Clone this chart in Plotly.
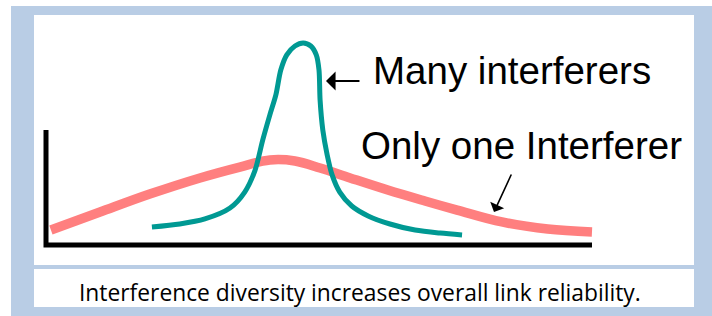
import plotly.graph_objects as go

# ---- data (abstract units: x 0..10 along the axis, y density-like) ----
pink_x = [0.09, 0.99, 1.90, 2.82, 3.55, 4.10, 4.56, 5.02, 5.57, 6.26, 6.94, 7.53, 8.35, 9.19, 10.0]
pink_y = [0.74, 1.63, 2.52, 3.32, 3.86, 4.21, 4.16, 3.81, 3.32, 2.72, 2.18, 1.73, 1.14, 0.79, 0.64]

teal_x = [1.94, 2.45, 2.91, 3.37, 3.64, 3.83, 3.97, 4.10, 4.21, 4.30, 4.41, 4.56, 4.71,
          4.85, 4.95, 5.00, 5.02, 5.07, 5.15, 5.24, 5.38, 5.60, 5.90, 6.30, 6.76, 7.22, 7.62]
teal_y = [0.89, 1.04, 1.29, 1.83, 2.62, 3.71, 5.20, 6.44, 7.43, 8.66, 9.41, 9.85, 10.0,
          9.85, 9.41, 8.66, 7.18, 5.69, 4.46, 3.47, 2.62, 1.93, 1.44, 1.04, 0.74, 0.59, 0.50]

axis_x = [0.0, 0.0, 10.0]
axis_y = [5.69, 0.0, 0.0]

label_many = "Many interferers"
label_one = "Only one Interferer"
caption = "Interference diversity increases overall link reliability."

BLUE = "#b9cde5"
PINK = "#ff7f7f"
TEAL = "#009993"

fig = go.Figure()
fig.add_trace(go.Scatter(x=axis_x, y=axis_y, mode="lines",
                         line=dict(color="black", width=5), hoverinfo="skip"))
fig.add_trace(go.Scatter(x=pink_x, y=pink_y, mode="lines",
                         line=dict(color=PINK, width=9.5, shape="spline", smoothing=1.0),
                         hoverinfo="skip"))
fig.add_trace(go.Scatter(x=teal_x, y=teal_y, mode="lines",
                         line=dict(color=TEAL, width=5, shape="spline", smoothing=0.8),
                         hoverinfo="skip"))

# background frame and panels
fig.add_shape(type="rect", xref="paper", yref="paper", x0=11/712, x1=1.0, y0=0.0, y1=1-6/316,
              fillcolor=BLUE, line_width=0, layer="below")
fig.add_shape(type="rect", xref="paper", yref="paper", x0=34/712, x1=694/712,
              y0=1-265/316, y1=1-15/316, fillcolor="white", line_width=0, layer="below")
fig.add_shape(type="rect", xref="paper", yref="paper", x0=34/712, x1=694/712,
              y0=1-307/316, y1=1-269/316, fillcolor="white", line_width=0, layer="below")

TXT = dict(family="Liberation Sans, Arial, sans-serif", size=38.5, color="black")

# labels
fig.add_annotation(x=8.526, y=8.663, xref="x", yref="y", text=label_many, showarrow=False,
                   font=TXT, xanchor="center", yanchor="middle")
fig.add_annotation(x=8.709, y=4.95, xref="x", yref="y", text=label_one, showarrow=False,
                   font=TXT, xanchor="center", yanchor="middle")
# arrows
fig.add_annotation(x=5.128, y=8.119, ax=5.769, ay=8.119, xref="x", yref="y", axref="x", ayref="y",
                   text="", showarrow=True, arrowhead=1, arrowsize=1.6, arrowwidth=2,
                   arrowcolor="black")
fig.add_annotation(x=8.205, y=1.634, ax=8.535, ay=3.564, xref="x", yref="y", axref="x", ayref="y",
                   text="", showarrow=True, arrowhead=1, arrowsize=1.6, arrowwidth=1.6,
                   arrowcolor="black")
# caption
fig.add_annotation(x=359.5/712, y=1-292/316, xref="paper", yref="paper", text=caption,
                   showarrow=False, xanchor="center", yanchor="middle",
                   font=dict(family="Open Sans, Lato, sans-serif", size=22.8, color="black"))

fig.update_layout(
    width=712, height=316, margin=dict(l=0, r=0, t=0, b=0),
    paper_bgcolor="white", plot_bgcolor="rgba(0,0,0,0)",
    showlegend=False, hovermode=False,
    xaxis=dict(range=[-0.8425, 12.198], visible=False, fixedrange=True),
    yaxis=dict(range=[-3.515, 12.129], visible=False, fixedrange=True),
)

fig.write_html("out.html", config={"displayModeBar": False},
               post_script="document.body.style.margin='0';document.body.style.overflow='hidden';")
